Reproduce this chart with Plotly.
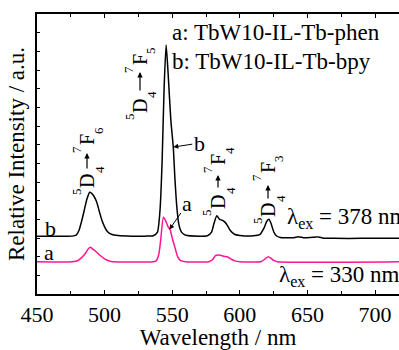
import plotly.graph_objects as go

# Curve b (TbW10-IL-Tb-bpy, black), offset spectrum
wl_b = [450, 470, 476, 479, 481, 483, 485, 487, 489, 490, 492, 494, 496, 498, 500, 502, 505, 510,
        520, 530, 536, 539, 541, 542.5, 544, 545.5, 547, 549, 550.8, 552, 553.5, 555, 557, 560,
        570, 576, 579, 581, 583, 585, 587, 589, 591, 593, 596, 600, 610, 615, 618, 620, 621.5,
        623, 625, 627, 630, 640, 643, 648, 655, 658, 662, 670, 690, 720]
int_b = [3.09, 3.09, 3.10, 3.15, 3.4, 3.9, 4.5, 5.1, 5.45, 5.42, 5.25, 4.95, 4.45, 3.95, 3.6, 3.35, 3.2, 3.13,
         3.10, 3.10, 3.12, 3.3, 4.5, 7.0, 11.0, 13.34, 11.8, 9.3, 7.87, 6.2, 4.6, 3.7, 3.3, 3.15,
         3.1, 3.12, 3.3, 3.8, 4.19, 4.0, 3.95, 3.85, 3.65, 3.4, 3.2, 3.14, 3.12, 3.2, 3.55, 3.9, 4.0,
         3.8, 3.35, 3.12, 3.03, 3.02, 3.07, 3.01, 3.04, 3.06, 2.99, 2.98, 2.98, 2.98]

# Curve a (TbW10-IL-Tb-phen, pink)
wl_a = [450, 476, 480, 483, 486, 488, 489.5, 491, 494, 497, 500, 504, 510, 535, 538, 540, 541.5,
        543.5, 545, 547, 548.4, 550, 552, 554, 556, 560, 577, 580, 582, 585, 588, 591, 594, 597,
        600, 616, 619, 621, 623, 625, 628, 720]
int_a = [1.73, 1.73, 1.78, 1.95, 2.2, 2.42, 2.50, 2.42, 2.25, 2.05, 1.88, 1.76, 1.72, 1.72, 1.76, 2.1, 2.9,
         4.11, 3.95, 3.6, 3.46, 3.0, 2.5, 2.0, 1.8, 1.73, 1.73, 1.85, 2.05, 2.09, 2.02, 1.98, 1.85, 1.76,
         1.73, 1.74, 1.9, 2.0, 1.92, 1.8, 1.73, 1.73]

x_ticks = [450, 500, 550, 600, 650, 700]
transition_final = ["6", "5", "4", "3"]
FONT = "Liberation Serif, Times New Roman, serif"

W, H = 399, 350
L, R, T, B = 37, 0, 14, 56
PW, PH = W - L - R, H - T - B

def px(xp):
    return (xp - L) / PW

def py(yp):
    return (H - B - yp) / PH

fig = go.Figure()
fig.add_trace(go.Scatter(x=wl_b, y=int_b, mode="lines",
                         line=dict(color="black", width=1.5, shape="spline", smoothing=0.6)))
fig.add_trace(go.Scatter(x=wl_a, y=int_a, mode="lines",
                         line=dict(color="#ff1493", width=1.5, shape="spline", smoothing=0.6)))

fig.update_layout(
    width=W, height=H,
    margin=dict(l=L, r=R, t=T, b=B),
    paper_bgcolor="white", plot_bgcolor="white",
    showlegend=False,
    font=dict(family=FONT, size=22, color="black"),
    xaxis=dict(range=[450, 717.75], tickvals=x_ticks, ticks="inside", ticklen=4,
               tickwidth=1, tickcolor="black",
               minor=dict(dtick=25, tick0=450, ticks="inside", ticklen=3, tickcolor="black"),
               showline=True, linecolor="black", linewidth=1.5, mirror="ticks",
               showgrid=False, zeroline=False,
               tickfont=dict(family=FONT, size=22, color="black"),
               title=dict(text="Wavelength / nm", font=dict(family=FONT, size=23, color="black"),
                          standoff=4)),
    yaxis=dict(range=[0, 15], dtick=1, ticks="inside", ticklen=3, tickcolor="black",
               showticklabels=False, showline=True, linecolor="black", linewidth=1.5,
               mirror=False, showgrid=False, zeroline=False,
               title=dict(text="Relative Intensity / a.u.",
                          font=dict(family=FONT, size=23, color="black"), standoff=4)),
)

ann = []
def t(xp, yp, text, size=20, angle=0, xanchor="center", yanchor="middle"):
    ann.append(dict(x=px(xp), y=py(yp), xref="paper", yref="paper", text=text, showarrow=False,
                    textangle=angle, xanchor=xanchor, yanchor=yanchor,
                    font=dict(family=FONT, size=size, color="black")))

# legend-like text
t(170, 32, "a: TbW10-IL-Tb-phen", size=23, xanchor="left")
t(170, 62, "b: TbW10-IL-Tb-bpy", size=23, xanchor="left")

# transition labels ^5D_4 -> ^7F_J, written vertically (glyph by glyph)
# (x0, yD, yF, arrow_top, arrow_bottom)
label_pos = [(87, 181, 140, 153, 170), (140, 106, 60, 72, 92),
             (218, 202, 160, 175, 189), (268, 210, 168, 185, 200)]
for J, (x0, yD, yF, at, ab) in zip(transition_final, label_pos):
    t(x0, yD, "D", size=20, angle=-90)
    t(x0 - 11, yD + 11, "5", size=13, angle=-90)
    t(x0 + 12, yD - 11, "4", size=13, angle=-90)
    t(x0, yF, "F", size=20, angle=-90)
    t(x0 - 11, yF + 10, "7", size=13, angle=-90)
    t(x0 + 11, yF - 9, J, size=13, angle=-90)
    ann.append(dict(x=px(x0), y=py(at), xref="paper", yref="paper", text="", showarrow=True,
                    ax=0, ay=ab - at, arrowhead=2, arrowsize=0.9, arrowwidth=1.2,
                    arrowcolor="black"))

# curve labels
t(50, 229, "b", size=22)
t(49, 252, "a", size=22)
# excitation
t(285, 218, "λ<sub>ex</sub> = 378 nm", size=23, xanchor="left")
t(277, 276, "λ<sub>ex</sub> = 330 nm", size=23, xanchor="left")

# pointer arrows
ann.append(dict(x=550.8, y=7.87, xref="x", yref="y", text="b", showarrow=True,
                ax=26, ay=-4, arrowhead=2, arrowsize=1, arrowwidth=1, arrowcolor="black",
                font=dict(family=FONT, size=22, color="black")))
ann.append(dict(x=547.9, y=3.45, xref="x", yref="y", text="a", showarrow=True,
                ax=18, ay=-26, arrowhead=2, arrowsize=1, arrowwidth=1, arrowcolor="black",
                font=dict(family=FONT, size=22, color="black")))

fig.update_layout(annotations=ann)
fig.write_html("out.html")
